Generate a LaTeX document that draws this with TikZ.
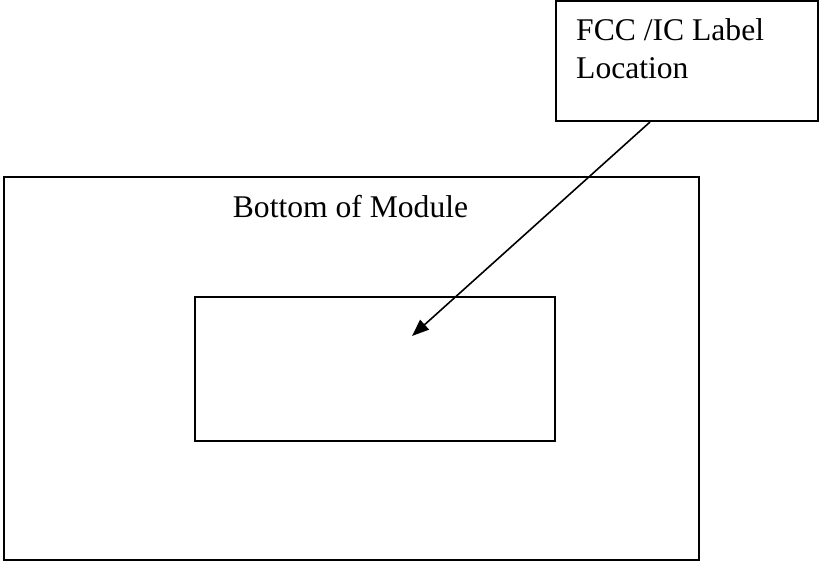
\documentclass[tikz,border=0pt]{standalone}
\usepackage{fontspec}
\setmainfont{Liberation Serif}
\usetikzlibrary{arrows.meta}
\begin{document}
\begin{tikzpicture}[x=1pt,y=-1pt,
  frame/.style={draw=black,line width=2pt,inner sep=0pt,rectangle},
  txt/.style={inner sep=0pt,font=\fontsize{31.6}{38}\selectfont,align=left},
  pointer/.style={line width=1.6pt,-{Triangle[length=17pt,width=13pt]}}]
\useasboundingbox (0,0) rectangle (819,562);
\node[frame,minimum width=695pt,minimum height=383pt] (outer) at (351.5,368.5) {};
\node[frame,minimum width=360pt,minimum height=144pt] (inner) at (375,369) {};
\node[frame,fill=white,minimum width=262pt,minimum height=120pt] (lblbox) at (687,61) {};
\node[txt,anchor=base] (title) at (350.5,217) {Bottom of Module};
\node[txt,anchor=base west] (lbl) at (576,78) {FCC /IC Label\\Location};
\coordinate (tip) at (412,336);
\draw[pointer] ([xshift=-37pt]lblbox.south) -- (tip);
\end{tikzpicture}
\end{document}
